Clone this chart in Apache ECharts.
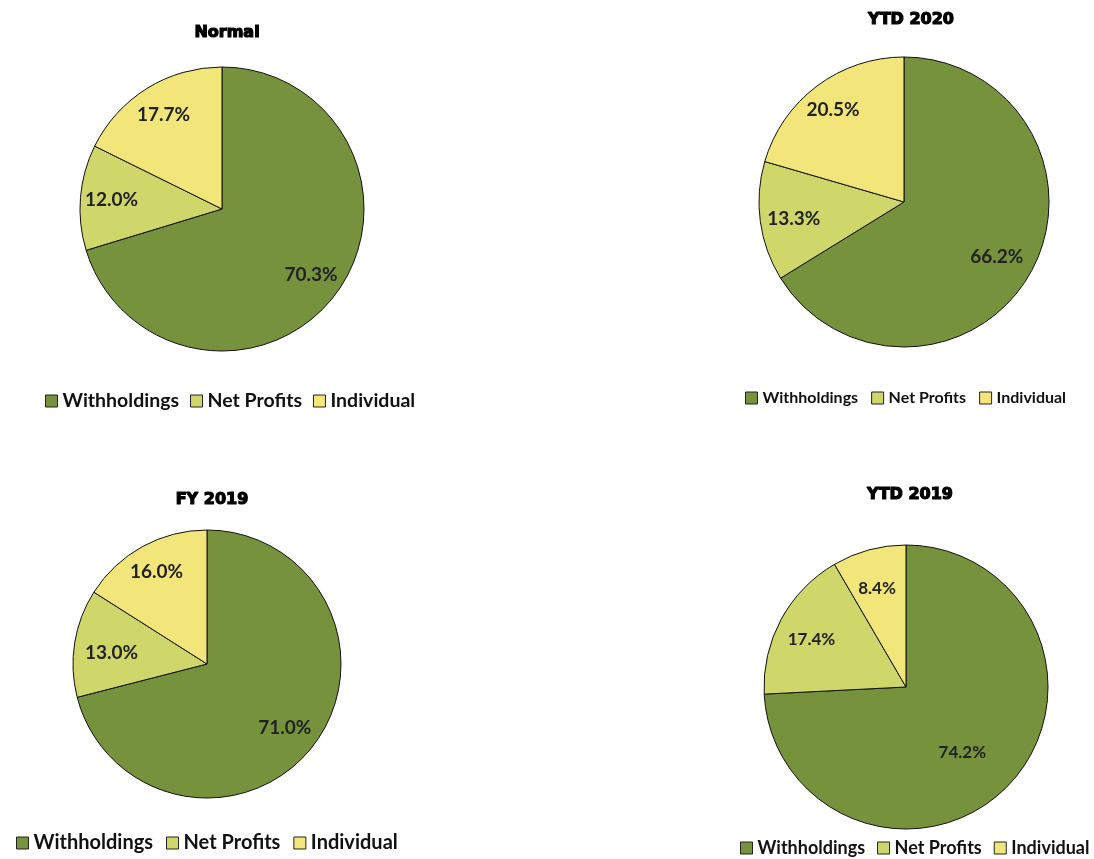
<!DOCTYPE html>
<html>
<head>
<meta charset="utf-8">
<script src="https://cdn.jsdelivr.net/npm/echarts@6/dist/echarts.min.js"></script>
<style>
html,body{margin:0;padding:0;background:#fff;}
#chart{width:1094px;height:859px;}
</style>
</head>
<body>
<div id="chart"></div>
<script>
const categories = ['Withholdings', 'Net Profits', 'Individual'];
const chartTitles = ['Normal', 'YTD 2020', 'FY 2019', 'YTD 2019'];
const normalValues = [70.3, 12.0, 17.7];
const ytd2020Values = [66.2, 13.3, 20.5];
const fy2019Values = [71.0, 13.0, 16.0];
const ytd2019Values = [74.2, 17.4, 8.4];

const colors = ['#76923c', '#cfd76b', '#f2e67a'];
const valueSets = [normalValues, ytd2020Values, fy2019Values, ytd2019Values];

// layout per panel (positions / styles only)
const panels = [
  {cx: 222, cy: 209, r: 142, tx: 222, ty: 20, lx: 45, ly: 391, lfs: 19.5, gap: 11, vfs: 19, shift: [[0,0],[0,0],[0,0]]},
  {cx: 904, cy: 202, r: 145, tx: 906, ty: 7, lx: 745, ly: 390, lfs: 16, gap: 13, vfs: 19, shift: [[-6,0],[2,2],[-3,-2]]},
  {cx: 207, cy: 664, r: 134, tx: 207, ty: 487, lx: 16, ly: 833, lfs: 20, gap: 13, vfs: 19, shift: [[-5,0],[8,5],[0,0]]},
  {cx: 906, cy: 687, r: 142, tx: 905, ty: 482, lx: 740, ly: 839, lfs: 18, gap: 12, vfs: 17, shift: [[-24,-11],[3,5],[0,9]]}
];

const FONT = 'Lato, "Open Sans", sans-serif';
const title = [], legend = [], series = [];
panels.forEach((p, i) => {
  const data = categories.map((c, k) => ({name: c, value: valueSets[i][k]}));
  title.push({
    text: chartTitles[i], left: p.tx, top: p.ty, textAlign: 'center',
    textStyle: {fontFamily: '"DejaVu Sans", sans-serif', fontWeight: 'bold', fontSize: 16, color: '#000',
      textBorderColor: '#000', textBorderWidth: 1.2}
  });
  legend.push({
    data: categories, left: p.lx, top: p.ly, orient: 'horizontal', padding: 0,
    icon: 'rect', itemWidth: 12, itemHeight: 12, itemGap: p.gap,
    itemStyle: {borderColor: '#222', borderWidth: 1},
    textStyle: {fontFamily: FONT, fontWeight: 'bold', fontSize: p.lfs, color: '#111'},
    selectedMode: false
  });
  series.push({
    type: 'pie', center: [p.cx, p.cy], radius: [0, p.r],
    startAngle: 90, clockwise: true, data: data, color: colors,
    label: {show: false}, labelLine: {show: false},
    itemStyle: {borderColor: '#111', borderWidth: 1},
    emphasis: {disabled: true}, silent: true, animation: false
  });
  series.push({
    type: 'pie', center: [p.cx, p.cy], radius: [p.r * 0.52, p.r],
    startAngle: 90, clockwise: true, data: data,
    itemStyle: {color: 'rgba(0,0,0,0)', borderWidth: 0},
    label: {
      show: true, position: 'inside',
      formatter: (q) => q.value.toFixed(1) + '%',
      fontFamily: FONT, fontWeight: 'bold', fontSize: p.vfs, color: '#222'
    },
    labelLayout: (params) => ({dx: p.shift[params.dataIndex][0], dy: p.shift[params.dataIndex][1]}),
    labelLine: {show: false},
    emphasis: {disabled: true}, silent: true, animation: false
  });
});

const chart = echarts.init(document.getElementById('chart'), null, {renderer: 'canvas'});
chart.setOption({backgroundColor: '#fff', animation: false, title, legend, series});
</script>
</body>
</html>
